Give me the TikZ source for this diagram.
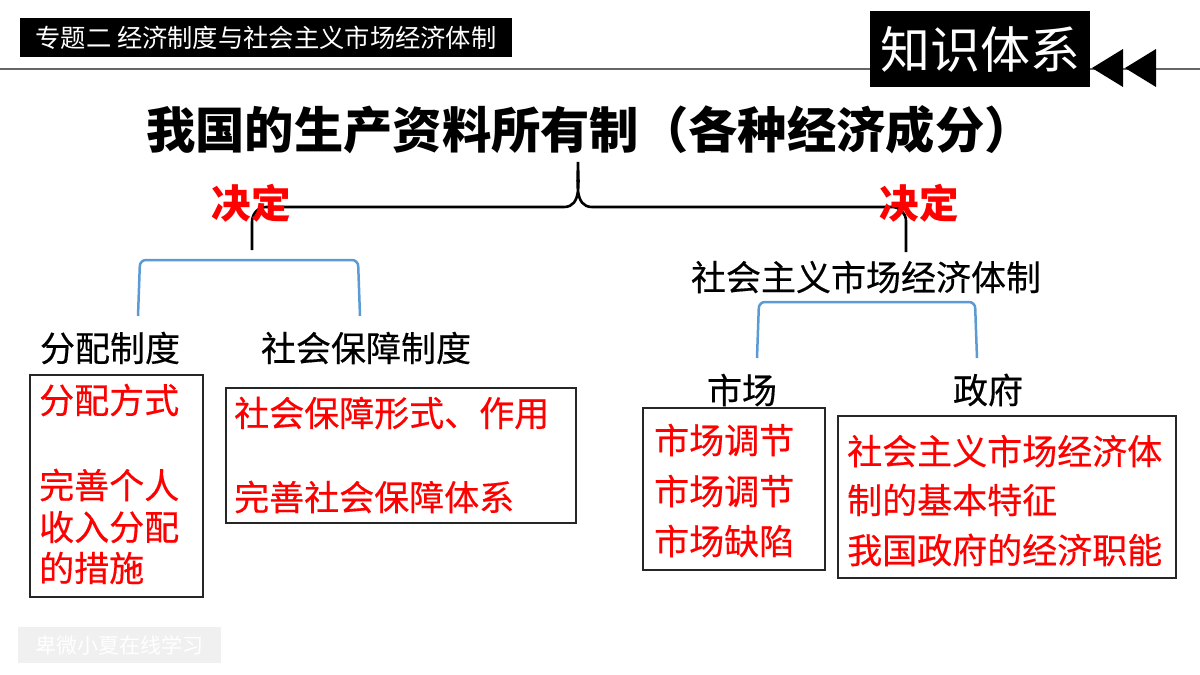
\documentclass[tikz,border=0pt]{standalone}
\usepackage{fontspec}
\setmainfont{Noto Sans CJK SC}
\newfontfamily\medfont{Noto Sans CJK SC}[FakeBold=0.4]
\definecolor{bracketblue}{RGB}{91,155,213}
\definecolor{txtred}{RGB}{255,0,0}
\tikzset{
  lbl/.style={inner sep=0pt, font=\medfont\fontsize{35}{35}\selectfont},
  redtxt/.style={inner sep=0pt, anchor=west, text=txtred, font=\medfont\fontsize{35}{35}\selectfont},
  jd/.style={inner sep=0pt, text=txtred, font=\fontsize{39.5}{39.5}\selectfont\bfseries},
  boxframe/.style={draw=black!85, line width=1.4pt, inner sep=0pt},
  bracket/.style={draw=bracketblue, line width=2.5pt, rounded corners=6pt},
  brace/.style={draw=black, line width=2.6pt},
}
\begin{document}
\begin{tikzpicture}[x=1pt,y=-1pt]
\useasboundingbox (0,0) rectangle (1200,675);
% header
\draw[black!60, line width=2pt] (0,69) -- (1200,69);
\node[fill=black, minimum width=492pt, minimum height=39pt, inner sep=0pt] (hdr) at (266,37.5) {};
\node[text=white, inner sep=0pt, font=\fontsize{25.3}{25.3}\selectfont] (hdrtxt) at (hdr.center) {专题二 经济制度与社会主义市场经济体制};
\node[fill=black, minimum width=220pt, minimum height=76pt, inner sep=0pt] (zs) at (980,49) {};
\node[text=white, inner sep=0pt, font=\fontsize{50}{50}\selectfont] (zstxt) at (zs.center) {知识体系};
\fill[black] (1092,68) -- (1123,49) -- (1123,87) -- cycle;
\fill[black] (1125,68) -- (1156,49) -- (1156,87) -- cycle;
% title
\node[inner sep=0pt, font=\fontsize{49.3}{49.3}\selectfont\bfseries] (title) at (590,130) {我国的生产资料所有制（各种经济成分）};
% brace
\coordinate (bl) at (252,250);
\coordinate (br) at (906,252);
\coordinate (btop) at (578,162);
\draw[brace] (bl) -- (252,222) to[out=90,in=180] (266,207) -- (564,207) to[out=0,in=-90] (btop) to[out=-90,in=180] (592,207) -- (892,207) to[out=0,in=90] (906,221) -- (br);
\node[jd] (jd1) at (251,203) {决定};
\node[jd] (jd2) at (919,203) {决定};
% right system
\node[lbl] (sys) at (866,277) {社会主义市场经济体制};
% labels
\node[lbl] (fp) at (110,348) {分配制度};
\node[lbl] (sb) at (366,348) {社会保障制度};
\node[lbl] (sc) at (742,390) {市场};
\node[lbl] (zf) at (988,390) {政府};
% blue brackets
\draw[bracket] (138,316) -- (140,260) -- (358,260) -- (360,316);
\draw[bracket] (757,358) -- (759,302) -- (975,302) -- (977,358);
% boxes
\node[boxframe, minimum width=173pt, minimum height=222pt] (box1) at (116.5,486) {};
\node[boxframe, minimum width=350pt, minimum height=135pt] (box2) at (401,455.5) {};
\node[boxframe, minimum width=182pt, minimum height=162pt] (box3) at (734,489) {};
\node[boxframe, minimum width=338pt, minimum height=162pt] (box4) at (1007,497) {};
% box texts
\node[redtxt] (t11) at (39,400) {分配方式};
\node[redtxt] (t12) at (39,485) {完善个人};
\node[redtxt] (t13) at (39,527) {收入分配};
\node[redtxt] (t14) at (39,568) {的措施};
\node[redtxt] (t21) at (234,413) {社会保障形式、作用};
\node[redtxt] (t22) at (234,497) {完善社会保障体系};
\node[redtxt] (t31) at (654,440) {市场调节};
\node[redtxt] (t32) at (654,491) {市场调节};
\node[redtxt] (t33) at (654,541) {市场缺陷};
\node[redtxt] (t41) at (847,451) {社会主义市场经济体};
\node[redtxt] (t42) at (847,500) {制的基本特征};
\node[redtxt] (t43) at (847,550) {我国政府的经济职能};
% watermark
\node[fill=black!6, minimum width=203pt, minimum height=36pt, inner sep=0pt] (wm) at (119.5,645) {};
\node[text=white, inner sep=0pt, font=\fontsize{21}{21}\selectfont] (wmtxt) at (wm.center) {卑微小夏在线学习};
\end{tikzpicture}
\end{document}
